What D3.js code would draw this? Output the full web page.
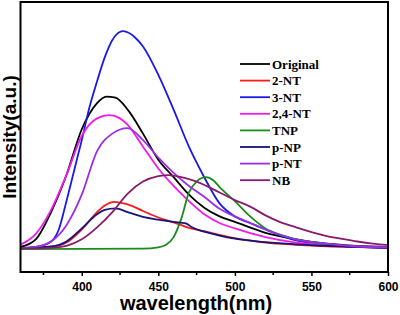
<!DOCTYPE html>
<html>
<head>
<meta charset="utf-8">
<script src="https://cdn.jsdelivr.net/npm/d3@7"></script>
<style>
  body { margin: 0; background: #fff; }
  svg { display: block; }
</style>
</head>
<body>
<div id="chart"></div>
<script>
// spectra: [wavelength (nm), intensity (a.u.)]
const original = [[360,1],[370,4.5],[380,17],[390,34],[400,55],[410,67],[416,70],[422,69.5],[430,64],[440,53],[450,41],[460,33],[470,25],[480,19],[490,15],[500,12.5],[520,7.5],[540,4.5],[560,2.5],[580,1.5],[600,1]];
const nt2 = [[360,0.5],[380,1],[390,3],[400,9],[410,17],[415,20],[421,21.7],[430,20.5],[440,17.5],[450,14.5],[460,12.3],[470,9.8],[480,8.2],[490,6.5],[500,5],[520,3],[540,2],[560,1.3],[580,0.9],[600,0.6]];
const nt3 = [[360,0.5],[370,1],[380,3.5],[385,9],[390,22],[395,36],[400,50],[405,65],[410,77],[415,88],[420,96],[427,100],[435,97],[440,93],[450,80],[460,64],[470,47],[480,33],[490,21],[500,15],[510,12],[520,9],[540,4],[560,2],[580,1],[600,0.5]];
const nt24 = [[360,2],[370,7],[380,18],[390,34],[400,52],[410,60],[418,61.5],[425,60],[430,57],[440,47],[450,37],[460,29],[470,22],[480,16],[490,12],[500,9.5],[520,5.5],[540,3],[560,2],[580,1.2],[600,1]];
const tnp = [[360,0],[440,0.2],[450,0.8],[455,2],[460,5.5],[465,14],[470,26],[475,31],[481,33],[486,31.5],[490,28.5],[500,22],[510,15],[520,9.5],[530,6.5],[540,4.5],[560,2.3],[580,1.3],[600,0.8]];
const pnp = [[360,0.5],[380,1.2],[390,3.5],[400,9.5],[410,16],[415,18],[422,18.7],[430,17],[440,14.8],[450,13.5],[460,12.5],[468,11.8],[472,10],[480,8],[490,6.2],[500,4.8],[520,3.2],[540,2.2],[560,1.5],[580,1],[600,0.6]];
const pnt = [[360,0.5],[370,1],[380,3.5],[390,11],[400,25],[410,45],[420,53],[430,55.5],[440,50],[450,42],[460,35],[470,29],[480,24],[490,18.5],[500,15],[510,12],[520,9],[540,4.5],[560,2.5],[580,1.2],[600,0.7]];
const nb = [[360,0.3],[380,0.6],[390,1.5],[400,4.5],[410,10],[420,17],[430,25.5],[440,31],[450,33.5],[457,34],[465,33],[475,31],[490,26],[500,22.5],[510,19.5],[520,15.5],[530,12.3],[540,10],[550,7.8],[560,6],[570,4.7],[580,3.5],[590,2.5],[600,1.8]];

const names = ["Original", "2-NT", "3-NT", "2,4-NT", "TNP", "p-NP", "p-NT", "NB"];
const colors = ["#000000", "#ff1a1a", "#1a1ae6", "#f01af0", "#1a8c1a", "#14147a", "#9a2eea", "#8a1a6e"];
const seriesList = [original, nt2, nt3, nt24, tnp, pnp, pnt, nb];
const xTicks = [400, 450, 500, 550, 600];
const xMinor = [375, 425, 475, 525, 575];

const W = 400, H = 315;
const m = { left: 20.5, right: 388, top: 2, bottom: 272 };

const svg = d3.select("#chart").append("svg")
  .attr("width", W).attr("height", H);

const x = d3.scaleLinear().domain([360, 600]).range([m.left, m.right]);
const y = d3.scaleLinear().domain([-10.5, 113.4]).range([m.bottom, m.top]);

// curves
const line = d3.line()
  .x(d => x(d[0]))
  .y(d => y(d[1]))
  .curve(d3.curveMonotoneX);

const plot = svg.append("g");
seriesList.forEach((s, i) => {
  plot.append("path")
    .datum(s)
    .attr("fill", "none")
    .attr("stroke", colors[i])
    .attr("stroke-width", 1.8)
    .attr("stroke-linejoin", "round")
    .attr("d", line);
});

// x axis, ticks outward
const xAxis = d3.axisBottom(x).tickValues(xTicks).tickSize(4).tickPadding(6);
const gx = svg.append("g").attr("transform", `translate(0,${m.bottom})`).call(xAxis);
gx.select(".domain").remove();
gx.selectAll(".tick line").attr("stroke-width", 1.5);
gx.selectAll("text")
  .attr("font-family", "Liberation Sans, Arial, sans-serif")
  .attr("font-weight", "bold")
  .attr("font-size", 12)
  .attr("fill", "#000");

svg.append("g").selectAll("line").data(xMinor).join("line")
  .attr("x1", d => x(d)).attr("x2", d => x(d))
  .attr("y1", m.bottom).attr("y2", m.bottom + 3)
  .attr("stroke", "#000").attr("stroke-width", 1.5);

// frame
svg.append("rect")
  .attr("x", m.left).attr("y", m.top)
  .attr("width", m.right - m.left).attr("height", m.bottom - m.top)
  .attr("fill", "none").attr("stroke", "#000").attr("stroke-width", 2);

// axis titles
svg.append("text")
  .attr("x", 196).attr("y", 310)
  .attr("text-anchor", "middle")
  .attr("font-family", "Liberation Sans, Arial, sans-serif")
  .attr("font-weight", "bold").attr("font-size", 20)
  .text("wavelength(nm)");

svg.append("text")
  .attr("transform", `translate(16,${(m.top + m.bottom) / 2}) rotate(-90)`)
  .attr("text-anchor", "middle")
  .attr("font-family", "Liberation Sans, Arial, sans-serif")
  .attr("font-weight", "bold").attr("font-size", 19)
  .text("Intensity(a.u.)");

// legend
const legend = svg.append("g");
names.forEach((n, i) => {
  const ly = 64 + i * 16.6;
  legend.append("line")
    .attr("x1", 240).attr("x2", 270)
    .attr("y1", ly).attr("y2", ly)
    .attr("stroke", colors[i]).attr("stroke-width", 1.8);
  legend.append("text")
    .attr("x", 272).attr("y", ly + 4.5)
    .attr("font-family", "Liberation Serif, Times New Roman, serif")
    .attr("font-weight", "bold").attr("font-size", 13)
    .text(n);
});
</script>
</body>
</html>
